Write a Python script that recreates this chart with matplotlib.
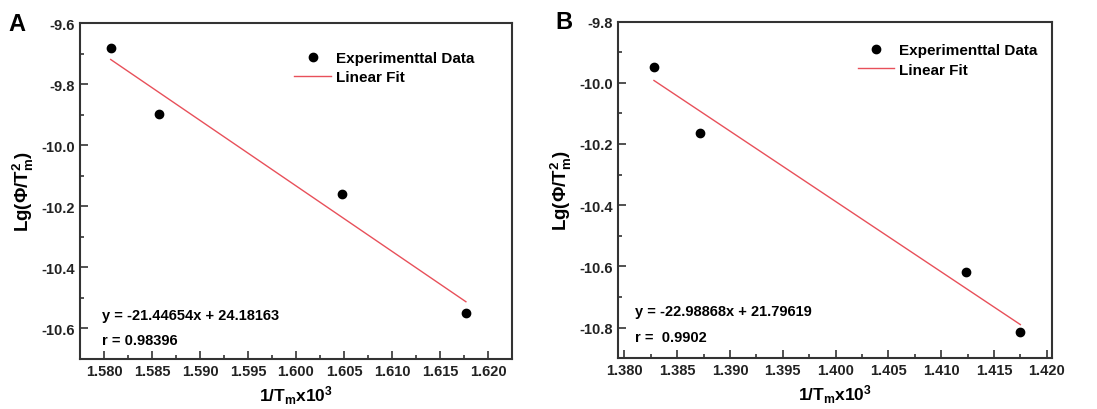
import matplotlib
matplotlib.use('Agg')
import matplotlib.pyplot as plt
import numpy as np
from matplotlib.ticker import MultipleLocator, FormatStrFormatter

plt.rcParams['font.family'] = ['Liberation Sans', 'DejaVu Sans']
plt.rcParams['font.weight'] = 'bold'
plt.rcParams['mathtext.fontset'] = 'custom'
plt.rcParams['mathtext.rm'] = 'Liberation Sans:bold'
plt.rcParams['mathtext.it'] = 'Liberation Sans:bold'
plt.rcParams['mathtext.bf'] = 'Liberation Sans:bold'
plt.rcParams['mathtext.default'] = 'rm'

# panel A data
xa = [1.5807, 1.5857, 1.6048, 1.6177]
ya = [-9.680, -9.897, -10.161, -10.551]
fit_a = (-21.44654, 24.18163)
text_a = ['y = -21.44654x + 24.18163', 'r = 0.98396']

# panel B data
xb = [1.3828, 1.3872, 1.4124, 1.4175]
yb = [-9.948, -10.164, -10.618, -10.815]
fit_b = (-22.98868, 21.79619)
text_b = ['y = -22.98868x + 21.79619', 'r =  0.9902']

fig = plt.figure(figsize=(10.97, 4.10), dpi=100)
axA = fig.add_axes([0.0729, 0.122, 0.3938, 0.819])
axB = fig.add_axes([0.5634, 0.124, 0.3956, 0.821])

def panel(ax, x, y, fit, txt, xlim, ylim, letter, leg_xy, txt_xy, let_x):
    ax.plot(x, y, 'o', color='black', ms=6, label='Experimenttal Data')
    xs = np.array([x[0], x[-1]])
    ax.plot(xs, fit[0] * xs + fit[1], color='#e8505a', lw=1.0, label='Linear Fit')
    ax.set_xlim(*xlim)
    ax.set_ylim(*ylim)
    ax.xaxis.set_major_locator(MultipleLocator(0.005))
    ax.xaxis.set_minor_locator(MultipleLocator(0.0025))
    ax.yaxis.set_major_locator(MultipleLocator(0.2))
    ax.yaxis.set_minor_locator(MultipleLocator(0.1))
    ax.xaxis.set_major_formatter(FormatStrFormatter('%.3f'))
    ax.yaxis.set_major_formatter(FormatStrFormatter('%.1f'))
    ax.tick_params(which='both', direction='in', top=False, right=False,
                   labelsize=10.5, width=1.2, color='#333333', labelcolor='#222222')
    ax.tick_params(which='major', length=6)
    ax.tick_params(which='minor', length=3)
    for s in ax.spines.values():
        s.set_linewidth(1.5)
        s.set_color('#333333')
    ax.set_xlabel('1/T$_m$x10$^3$', fontsize=12.5, fontweight='bold', labelpad=4)
    ax.set_ylabel('Lg(Φ/T$_m^2$)', fontsize=13.5, fontweight='bold', labelpad=4)
    ax.legend(loc='upper left', bbox_to_anchor=leg_xy, frameon=False,
              fontsize=11, handlelength=2.4, handletextpad=0.3,
              labelspacing=0.35, borderaxespad=0)
    ax.text(txt_xy[0], txt_xy[1], txt[0], transform=ax.transAxes,
            fontsize=10.5, fontweight='bold', va='center')
    ax.text(txt_xy[0], txt_xy[1] - 0.076, txt[1], transform=ax.transAxes,
            fontsize=10.5, fontweight='bold', va='center')
    ax.text(let_x, 1.0, letter, transform=ax.transAxes, fontsize=17,
            fontweight='bold', va='center', ha='left')

panel(axA, xa, ya, fit_a, text_a, (1.5775, 1.6225), (-10.7, -9.6), 'A',
      (0.482, 0.935), (0.05, 0.132), -0.165)
panel(axB, xb, yb, fit_b, text_b, (1.3794, 1.4205), (-10.9, -9.8), 'B',
      (0.538, 0.953), (0.04, 0.14), -0.145)

# tick labels bold (set after draw so the real label objects exist)
fig.canvas.draw()
for ax in (axA, axB):
    for lab in ax.get_xticklabels() + ax.get_yticklabels():
        lab.set_fontweight('bold')

fig.savefig('out.png', dpi=100)
